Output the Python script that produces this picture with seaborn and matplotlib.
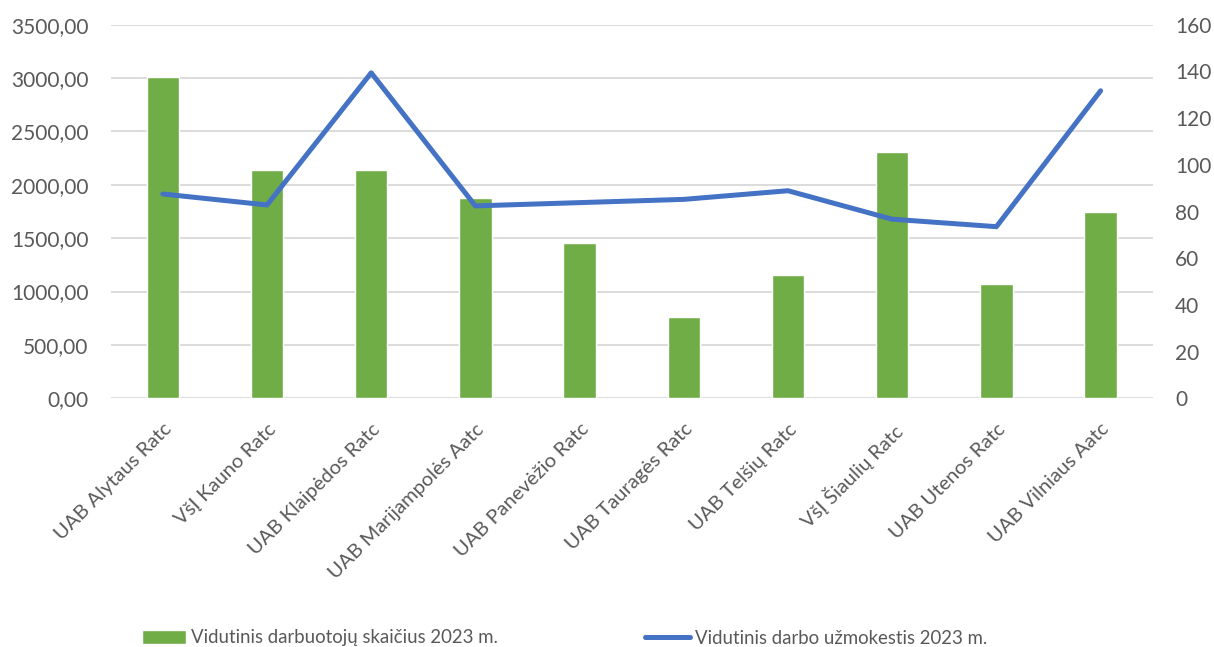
import pandas as pd
import matplotlib.pyplot as plt
import seaborn as sns
from matplotlib.ticker import FuncFormatter

# chart data
categories = ['UAB Alytaus Ratc', 'VšĮ Kauno Ratc', 'UAB Klaipėdos Ratc', 'UAB Marijampolės Aatc',
              'UAB Panevėžio Ratc', 'UAB Tauragės Ratc', 'UAB Telšių Ratc', 'VšĮ Šiaulių Ratc',
              'UAB Utenos Ratc', 'UAB Vilniaus Aatc']
employees = [3013, 2139, 2139, 1874, 1458, 759, 1152, 2310, 1068, 1745]
salary = [87.5, 82.8, 139.4, 82.4, 83.8, 85.2, 88.9, 76.7, 73.5, 131.7]
left_ticks = [0, 500, 1000, 1500, 2000, 2500, 3000, 3500]
right_ticks = [0, 20, 40, 60, 80, 100, 120, 140, 160]
bar_label = 'Vidutinis darbuotojų skaičius 2023 m.'
line_label = 'Vidutinis darbo užmokestis 2023 m.'

df = pd.DataFrame({'name': categories, 'employees': employees, 'salary': salary})

sns.set_style('white')
plt.rcParams['font.family'] = ['Lato', 'DejaVu Sans']
text_col = '#595959'

fig = plt.figure(figsize=(12.14, 6.47), dpi=100)
ax = fig.add_axes([0.0912, 0.3844, 0.8583, 0.5774])

# bars on the left axis
sns.barplot(data=df, x='name', y='employees', color='#70AD47', width=0.31,
            saturation=1, ax=ax, label=bar_label, zorder=2)
ax.set_ylim(0, 3500)
ax.set_xlim(-0.5, len(categories) - 0.5)
ax.set_yticks(left_ticks)
ax.yaxis.set_major_formatter(FuncFormatter(lambda v, p: f'{v:.2f}'.replace('.', ',')))
ax.grid(axis='y', color='#D9D9D9', linewidth=1.3, zorder=0)
ax.set_axisbelow(True)
ax.set_xlabel('')
ax.set_ylabel('')

# line on the right axis
ax2 = ax.twinx()
sns.lineplot(x=list(range(len(categories))), y=df['salary'], color='#4472C4', linewidth=3.6,
             ax=ax2, label=line_label, sort=False)
ax2.set_ylim(0, 160)
ax2.set_yticks(right_ticks)
ax2.set_ylabel('')
ax2.grid(False)
ax2.get_legend().remove()

ax.set_xticks(range(len(categories)))
ax.set_xticklabels(categories, rotation=45, ha='right', rotation_mode='anchor')
ax.tick_params(axis='x', length=0, pad=16, labelsize=14.5, labelcolor=text_col)
ax.tick_params(axis='y', length=0, pad=16, labelsize=15, labelcolor=text_col)
ax2.tick_params(axis='y', length=0, pad=16, labelsize=15, labelcolor=text_col)

for a in (ax, ax2):
    for s in a.spines.values():
        s.set_visible(False)

h1, l1 = ax.get_legend_handles_labels()
h2, l2 = ax2.get_legend_handles_labels()
if ax.get_legend():
    ax.get_legend().remove()
fig.legend(h1 + h2, l1 + l2, loc='center', bbox_to_anchor=(0.465, 1 - 638 / 647), ncol=2,
           frameon=False, fontsize=13.4, labelcolor=text_col, handlelength=2.4,
           handletextpad=0.27, columnspacing=7.9)

plt.savefig('out.png', dpi=100)
plt.close()
